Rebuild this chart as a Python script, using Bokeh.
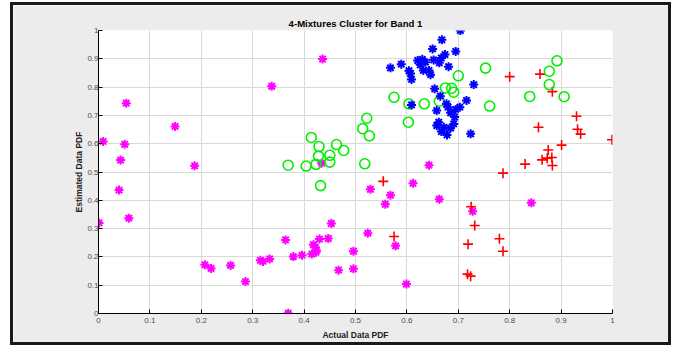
from bokeh.plotting import figure
from bokeh.models import Range1d, FixedTicker
from bokeh.embed import file_html
from bokeh.resources import INLINE

# ---- data ----
magenta_x = [0.009, 0.054, 0.051, 0.043, 0.149, 0.187, 0.337, 0.436, 0.434, 0.040, 0.001, 0.059,
             0.207, 0.219, 0.257, 0.286, 0.315, 0.320, 0.333, 0.364, 0.369, 0.379, 0.396, 0.415,
             0.418, 0.422, 0.424, 0.423, 0.430, 0.447, 0.453, 0.467, 0.643, 0.529, 0.612, 0.568,
             0.558, 0.663, 0.728, 0.842, 0.524, 0.578, 0.496, 0.496, 0.599]
magenta_y = [0.608, 0.743, 0.598, 0.542, 0.661, 0.522, 0.803, 0.899, 0.531, 0.436, 0.320, 0.337,
             0.172, 0.159, 0.170, 0.113, 0.188, 0.184, 0.193, 0.260, 0.001, 0.201, 0.206, 0.210,
             0.243, 0.234, 0.223, 0.216, 0.263, 0.265, 0.318, 0.153, 0.524, 0.439, 0.460, 0.418,
             0.386, 0.404, 0.361, 0.391, 0.284, 0.239, 0.220, 0.158, 0.104]

red_x = [0.554, 0.830, 0.787, 0.725, 0.732, 0.575, 0.719, 0.780, 0.787, 0.718, 0.724, 0.800,
         0.859, 0.883, 0.930, 0.856, 0.932, 0.938, 0.999, 0.901, 0.875, 0.882, 0.863, 0.873, 0.883]
red_y = [0.467, 0.528, 0.496, 0.377, 0.311, 0.272, 0.245, 0.264, 0.220, 0.139, 0.132, 0.837,
         0.846, 0.784, 0.697, 0.658, 0.651, 0.634, 0.614, 0.595, 0.578, 0.551, 0.543, 0.549, 0.523]

green_x = [0.414, 0.429, 0.463, 0.477, 0.428, 0.450, 0.450, 0.369, 0.404, 0.423, 0.432, 0.753,
           0.700, 0.675, 0.687, 0.691, 0.663, 0.575, 0.604, 0.634, 0.761, 0.839, 0.522, 0.514,
           0.527, 0.603, 0.518, 0.892, 0.877, 0.877, 0.906]
green_y = [0.622, 0.590, 0.597, 0.576, 0.556, 0.559, 0.535, 0.524, 0.521, 0.527, 0.452, 0.867,
           0.840, 0.797, 0.796, 0.782, 0.750, 0.764, 0.741, 0.741, 0.733, 0.767, 0.690, 0.653,
           0.628, 0.676, 0.529, 0.893, 0.856, 0.809, 0.766]

blue_x = [0.704, 0.668, 0.650, 0.695, 0.674, 0.667, 0.652, 0.663, 0.621, 0.630, 0.636, 0.626,
          0.589, 0.568, 0.681, 0.604, 0.632, 0.643, 0.607, 0.646, 0.609, 0.730, 0.654, 0.665,
          0.716, 0.609, 0.677, 0.680, 0.703, 0.695, 0.658, 0.685, 0.693, 0.662, 0.691, 0.658,
          0.672, 0.685, 0.667, 0.678, 0.724]
blue_y = [1.000, 0.967, 0.935, 0.926, 0.915, 0.903, 0.896, 0.886, 0.894, 0.898, 0.888, 0.879,
          0.881, 0.868, 0.872, 0.858, 0.859, 0.859, 0.848, 0.844, 0.827, 0.809, 0.794, 0.768,
          0.753, 0.737, 0.741, 0.729, 0.729, 0.721, 0.717, 0.709, 0.694, 0.676, 0.670, 0.664,
          0.658, 0.655, 0.643, 0.631, 0.635]

tick_values = [0, 0.1, 0.2, 0.3, 0.4, 0.5, 0.6, 0.7, 0.8, 0.9, 1]
tick_labels = ["0", "0.1", "0.2", "0.3", "0.4", "0.5", "0.6", "0.7", "0.8", "0.9", "1"]

FONT = "Liberation Sans"

p = figure(width=661, height=343, output_backend="svg", toolbar_location=None,
           x_range=Range1d(0, 1), y_range=Range1d(0, 1),
           min_border_left=85, min_border_right=62, min_border_top=25, min_border_bottom=35,
           background_fill_color="white", border_fill_color="#ececec",
           margin=(2, 0, 0, 10),
           title="4-Mixtures Cluster for Band 1")
p.styles = {"border": "3px solid #1a1a1a"}
p.outline_line_color = None

p.title.align = "center"
p.title.text_font = FONT
p.title.text_font_size = "9.6px"
p.title.text_font_style = "bold"
p.title.text_color = "black"
p.title.standoff = 4

labels = dict(zip(tick_values, tick_labels))
for ax in (p.xaxis[0], p.yaxis[0]):
    ax.ticker = FixedTicker(ticks=tick_values)
    ax.major_label_overrides = labels
    ax.major_label_text_font = FONT
    ax.major_label_text_font_size = "8px"
    ax.major_label_text_color = "#4d4d4d"
    ax.axis_label_text_font = FONT
    ax.axis_label_text_font_size = "8.5px"
    ax.axis_label_text_font_style = "bold"
    ax.axis_label_text_color = "#222222"
    ax.major_tick_in = 4
    ax.major_tick_out = 0
    ax.minor_tick_in = 0
    ax.minor_tick_out = 0
    ax.axis_line_color = "black"
    ax.major_tick_line_color = "black"

p.xaxis[0].major_label_standoff = 4
p.xaxis[0].axis_label_standoff = 4
p.yaxis[0].major_label_standoff = 0
p.yaxis[0].axis_label_standoff = 0

p.xaxis.axis_label = "Actual Data PDF"
p.yaxis.axis_label = "Estimated Data PDF"

for g in (p.xgrid[0], p.ygrid[0]):
    g.ticker = FixedTicker(ticks=tick_values)
    g.grid_line_color = "#d9d9d9"
    g.grid_line_width = 1

p.scatter(magenta_x, magenta_y, marker="asterisk", size=9, line_color="#ff00ff", line_width=2)
p.scatter(red_x, red_y, marker="cross", size=10, line_color="#ff0000", line_width=1.6)
p.scatter(green_x, green_y, marker="circle", size=10, line_color="#00ee00", fill_color=None, line_width=1.6)
p.scatter(blue_x, blue_y, marker="asterisk", size=9, line_color="#0000ff", line_width=2)

open("out.html", "w").write(file_html(p, INLINE))
